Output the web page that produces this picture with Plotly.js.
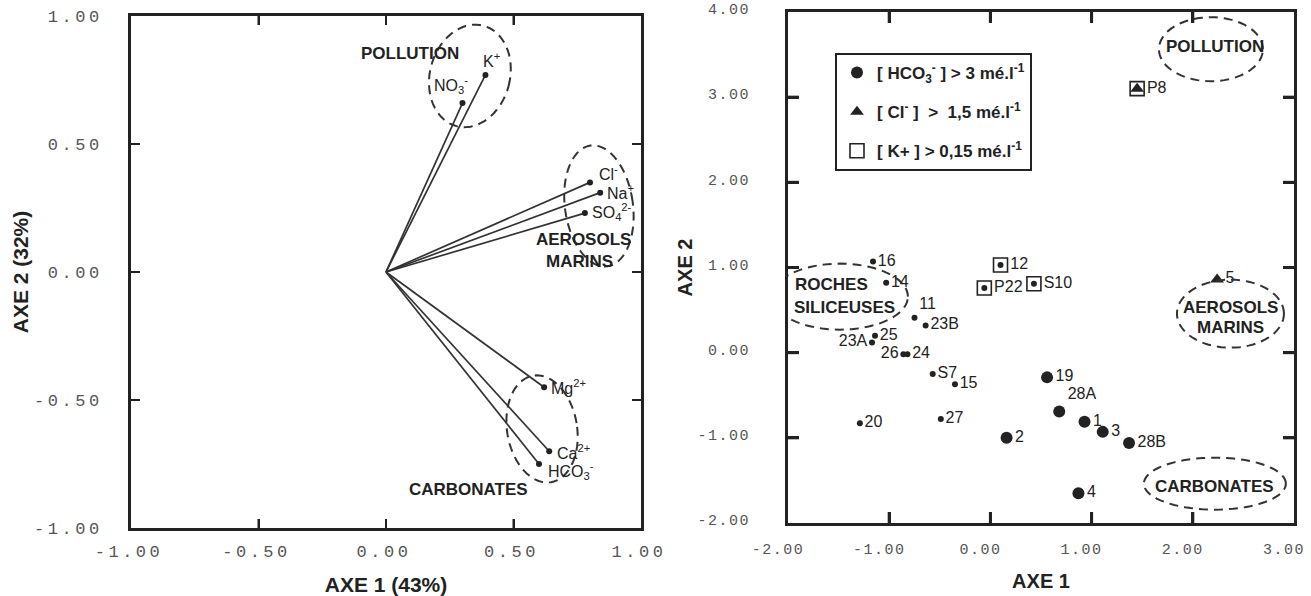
<!DOCTYPE html>
<html><head><meta charset="utf-8">
<script src="https://cdn.plot.ly/plotly-3.0.1.min.js"></script>
<style>
html,body{margin:0;padding:0;background:#fff;}
#chart{width:1311px;height:596px;}
.xtick text, .ytick text { letter-spacing: 3.5px; }
.x2tick text, .y2tick text { letter-spacing: 1.5px; }
</style></head><body><div id="chart"></div>
<script>
// ---------- Left panel : variables (ACP loadings) ----------
const ionLabels = ['NO<sub>3</sub><sup>-</sup>','K<sup>+</sup>','Cl<sup>-</sup>','Na<sup>+</sup>','SO<sub>4</sub><sup>2-</sup>','Mg<sup>2+</sup>','Ca<sup>2+</sup>','HCO<sub>3</sub><sup>-</sup>'];
const ionAxe1 = [0.30, 0.39, 0.80, 0.84, 0.78, 0.62, 0.64, 0.60];
const ionAxe2 = [0.66, 0.77, 0.35, 0.31, 0.23, -0.45, -0.70, -0.75];

// ---------- Right panel : samples ----------
const sampleIds  = ['16','14','11','23B','25','23A','26','24','S7','15','27','20','12','P22','S10','19','28A','1','3','28B','2','4','5','P8'];
const sampleAxe1 = [-1.16,-1.03,-0.75,-0.64,-1.14,-1.17,-0.86,-0.82,-0.57,-0.35,-0.49,-1.29, 0.10,-0.06, 0.43, 0.56, 0.68, 0.93, 1.11, 1.37, 0.16, 0.87, 2.24, 1.45];
const sampleAxe2 = [ 1.07, 0.82, 0.41, 0.32, 0.20, 0.12,-0.02,-0.02,-0.25,-0.37,-0.78,-0.83, 1.03, 0.76, 0.81,-0.29,-0.69,-0.81,-0.93,-1.06,-1.00,-1.65, 0.86, 3.10];
const hco3High   = [0,0,0,0,0,0,0,0,0,0,0,0,0,0,0,1,1,1,1,1,1,1,0,0]; // [HCO3-] > 3 me/l
const clHigh     = [0,0,0,0,0,0,0,0,0,0,0,0,0,0,0,0,0,0,0,0,0,0,1,1]; // [Cl-] > 1,5 me/l
const kHigh      = [0,0,0,0,0,0,0,0,0,0,0,0,1,1,1,0,0,0,0,0,0,0,0,1]; // [K+] > 0,15 me/l

// tick labels
const leftTickVals  = [-1, -0.5, 0, 0.5, 1];
const leftTickText  = ['-1.00','-0.50','0.00','0.50','1.00'];
const rightXTickVals = [-2, -1, 0, 1, 2, 3];
const rightXTickText = ['-2.00','-1.00','0.00','1.00','2.00','3.00'];
const rightYTickVals = [-2, -1, 0, 1, 2, 3, 4];
const rightYTickText = ['-2.00','-1.00','0.00','1.00','2.00','3.00','4.00'];

// ---------- styling (not data) ----------
const INK = '#222';
const SANS = 'Liberation Sans, Arial, sans-serif';
const MONO = 'Liberation Mono, DejaVu Sans Mono, monospace';
const W = 1311, H = 596;
const L = {x0:131, x1:641, y0:16, y1:528};   // left plot frame (px)
const R = {x0:788, x1:1294, y0:12, y1:523};  // right plot frame (px)

const ionLabelStyle = [
  {xanchor:'center', xshift:-12, yshift:18},
  {xanchor:'center', xshift:6, yshift:15},
  {xanchor:'left', xshift:7, yshift:9},
  {xanchor:'left', xshift:5, yshift:1},
  {xanchor:'left', xshift:5, yshift:1},
  {xanchor:'left', xshift:5, yshift:0},
  {xanchor:'left', xshift:6, yshift:-1},
  {xanchor:'left', xshift:7, yshift:-7}
];
const samplePos = {'11':'top right','28A':'top right','23A':'middle left','26':'middle left'};

const sL = {sx:(L.x1-L.x0)/2, sy:(L.y1-L.y0)/2};
const sR = {sx:(R.x1-R.x0)/5, sy:(R.y1-R.y0)/6};

// ---------- traces ----------
const vx = [], vy = [];
ionAxe1.forEach((v,i)=>{ vx.push(0, v, null); vy.push(0, ionAxe2[i], null); });

const traces = [];
traces.push({x:vx, y:vy, xaxis:'x', yaxis:'y', mode:'lines', line:{color:'#333', width:1.7}, showlegend:false, hoverinfo:'skip'});
traces.push({x:ionAxe1, y:ionAxe2, xaxis:'x', yaxis:'y', mode:'markers', marker:{color:'#222', size:6}, showlegend:false});

// inward tick marks on all four sides, built from the tick value arrays
function tickTrace(xVals, yVals, xr, yr, s, px, w, xa, ya){
  const tx = [], ty = [], lx = px/s.sx, ly = px/s.sy;
  xVals.slice(1,-1).forEach(v=>{ tx.push(v, v, null, v, v, null); ty.push(yr[0], yr[0]+ly, null, yr[1], yr[1]-ly, null); });
  yVals.slice(1,-1).forEach(v=>{ tx.push(xr[0], xr[0]+lx, null, xr[1], xr[1]-lx, null); ty.push(v, v, null, v, v, null); });
  return {x:tx, y:ty, xaxis:xa, yaxis:ya, mode:'lines', line:{color:INK, width:w}, showlegend:false, hoverinfo:'skip'};
}
traces.push(tickTrace(leftTickVals, leftTickVals, [-1,1], [-1,1], sL, 9, 2, 'x', 'y'));
traces.push(tickTrace(rightXTickVals, rightYTickVals, [-2,3], [-2,4], sR, 11, 3, 'x2', 'y2'));

function pick(cond){ const o=[]; sampleIds.forEach((_,i)=>{ if(cond(i)) o.push(i); }); return o; }
const iSmall = pick(i=>!hco3High[i] && !clHigh[i]);
const iBig = pick(i=>hco3High[i]);
const iTri = pick(i=>clHigh[i]);
const iSq = pick(i=>kHigh[i]);
const tf = {family:SANS, size:16, color:INK};

traces.push({x:iSmall.map(i=>sampleAxe1[i]), y:iSmall.map(i=>sampleAxe2[i]), xaxis:'x2', yaxis:'y2',
  mode:'markers+text', text:iSmall.map(i=>kHigh[i]?'':sampleIds[i]),
  textposition:iSmall.map(i=>samplePos[sampleIds[i]]||'middle right'), textfont:tf,
  marker:{color:INK, size:6}, showlegend:false});
traces.push({x:iBig.map(i=>sampleAxe1[i]), y:iBig.map(i=>sampleAxe2[i]), xaxis:'x2', yaxis:'y2',
  mode:'markers+text', text:iBig.map(i=>sampleIds[i]),
  textposition:iBig.map(i=>samplePos[sampleIds[i]]||'middle right'), textfont:tf,
  marker:{color:INK, size:12, symbol:'circle'}, name:'<b>[ HCO<sub>3</sub><sup>-</sup> ] > 3 mé.l<sup>-1</sup></b>', legendgroup:'a', legendrank:1});
traces.push({x:iTri.map(i=>sampleAxe1[i]), y:iTri.map(i=>sampleAxe2[i]), xaxis:'x2', yaxis:'y2',
  mode:'markers+text', text:iTri.map(i=>kHigh[i]?'':sampleIds[i]), textposition:'middle right', textfont:tf,
  marker:{color:INK, size:12, symbol:'triangle-up'}, name:'<b>[ Cl<sup>-</sup> ]  >  1,5 mé.l<sup>-1</sup></b>', legendgroup:'b', legendrank:2});
traces.push({x:iSq.map(i=>sampleAxe1[i]), y:iSq.map(i=>sampleAxe2[i]), xaxis:'x2', yaxis:'y2',
  mode:'markers+text', text:iSq.map(i=>sampleIds[i]), textposition:'middle right', textfont:tf,
  marker:{color:INK, size:14, symbol:'square-open', line:{color:INK, width:1.6}}, name:'<b>[ K+ ] > 0,15 mé.l<sup>-1</sup></b>', legendgroup:'c', legendrank:3});

// ---------- ellipses (dashed group outlines) ----------
function ellipse(cx, cy, rx, ry, rotDeg, s, xr, yr){
  const r = rotDeg*Math.PI/180; let p = '';
  for(let k=0;k<=72;k++){
    const t = k/72*2*Math.PI, px = rx*Math.cos(t), py = ry*Math.sin(t);
    const dx = px*Math.cos(r)+py*Math.sin(r), dy = -px*Math.sin(r)+py*Math.cos(r);
    p += (k?' L ':'M ') + (cx+dx/s.sx).toFixed(4) + ',' + (cy+dy/s.sy).toFixed(4);
  }
  return {type:'path', path:p+' Z', xref:xr, yref:yr, line:{color:'#333', width:2, dash:'9px,6px'}};
}
const shapes = [
  ellipse(0.329, 0.766, 40, 52, 15, sL, 'x', 'y'),
  ellipse(0.835, 0.258, 34, 61, -8, sL, 'x', 'y'),
  ellipse(0.612, -0.613, 35, 54, -9.5, sL, 'x', 'y'),
  ellipse(2.179, 3.563, 52, 32, 0, sR, 'x2', 'y2'),
  ellipse(-1.487, 0.658, 68, 33, 0, sR, 'x2', 'y2'),
  ellipse(2.372, 0.458, 53.5, 34, 0, sR, 'x2', 'y2'),
  ellipse(2.218, -1.538, 71, 26, 0, sR, 'x2', 'y2')
];

// ---------- annotations ----------
const gf = {family:SANS, size:17, color:INK};
function grp(t, x, y, xr, yr){ return {text:'<b>'+t+'</b>', x:x, y:y, xref:xr, yref:yr, showarrow:false, font:gf}; }
const annotations = [
  grp('POLLUTION', 0.093, 0.854, 'x', 'y'),
  grp('AEROSOLS', 0.774, 0.125, 'x', 'y'),
  grp('MARINS', 0.757, 0.040, 'x', 'y'),
  grp('CARBONATES', 0.323, -0.848, 'x', 'y'),
  grp('POLLUTION', 2.215, 3.596, 'x2', 'y2'),
  grp('ROCHES', -1.569, 0.798, 'x2', 'y2'),
  grp('SILICEUSES', -1.438, 0.525, 'x2', 'y2'),
  grp('AEROSOLS', 2.373, 0.525, 'x2', 'y2'),
  grp('MARINS', 2.373, 0.290, 'x2', 'y2'),
  grp('CARBONATES', 2.215, -1.570, 'x2', 'y2')
];
ionLabels.forEach((t,i)=>{
  const st = ionLabelStyle[i];
  annotations.push({text:t, x:ionAxe1[i], y:ionAxe2[i], xref:'x', yref:'y', showarrow:false,
    xanchor:st.xanchor, yanchor:'middle', xshift:st.xshift, yshift:st.yshift, font:{family:SANS, size:16, color:INK}});
});

// ---------- axes ----------
function ax(extra){
  return Object.assign({showgrid:false, zeroline:false, showline:true, linecolor:INK, linewidth:3,
    mirror:'ticks', ticks:'inside', tickcolor:INK, tickmode:'array', automargin:false}, extra);
}
const layout = {
  width:W, height:H, margin:{l:0, r:0, t:0, b:0},
  font:{family:SANS, color:INK},
  xaxis: ax({domain:[L.x0/W, L.x1/W], range:[-1,1], anchor:'y', tickvals:leftTickVals, ticktext:leftTickText,
    ticklen:9, tickwidth:2, tickfont:{family:MONO, size:17, color:'#555'}, ticklabelstandoff:6, ticklabelshift:-2,
    title:{text:'<b>AXE 1 (43%)</b>', font:{family:SANS, size:21, color:INK}, standoff:16}}),
  yaxis: ax({domain:[1-L.y1/H, 1-L.y0/H], range:[-1,1], anchor:'x', tickvals:leftTickVals, ticktext:leftTickText,
    ticklen:9, tickwidth:2, tickfont:{family:MONO, size:17, color:'#555'}, ticklabelstandoff:22,
    title:{text:'<b>AXE 2 (32%)</b>', font:{family:SANS, size:21, color:INK}, standoff:0}}),
  xaxis2: ax({domain:[R.x0/W, R.x1/W], range:[-2,3], anchor:'y2', tickvals:rightXTickVals, ticktext:rightXTickText,
    ticklen:11, tickwidth:3, tickfont:{family:MONO, size:15, color:'#555'}, ticklabelstandoff:10, ticklabelshift:-10,
    title:{text:'<b>AXE 1</b>', font:{family:SANS, size:20, color:INK}, standoff:16}}),
  yaxis2: ax({domain:[1-R.y1/H, 1-R.y0/H], range:[-2,4], anchor:'x2', tickvals:rightYTickVals, ticktext:rightYTickText,
    ticklen:11, tickwidth:3, tickfont:{family:MONO, size:15, color:'#555'}, ticklabelstandoff:32, ticklabelshift:-3,
    title:{text:'<b>AXE 2</b>', font:{family:SANS, size:20, color:INK}, standoff:0}}),
  showlegend:true,
  legend:{x:835/W, y:1-53/H, xanchor:'left', yanchor:'top', bgcolor:'#fff', bordercolor:INK, borderwidth:2,
    font:{family:SANS, size:17, color:INK}, tracegroupgap:14, itemsizing:'trace', traceorder:'grouped'},
  shapes:shapes, annotations:annotations
};
Plotly.newPlot('chart', traces, layout, {staticPlot:true, displayModeBar:false});
</script></body></html>
